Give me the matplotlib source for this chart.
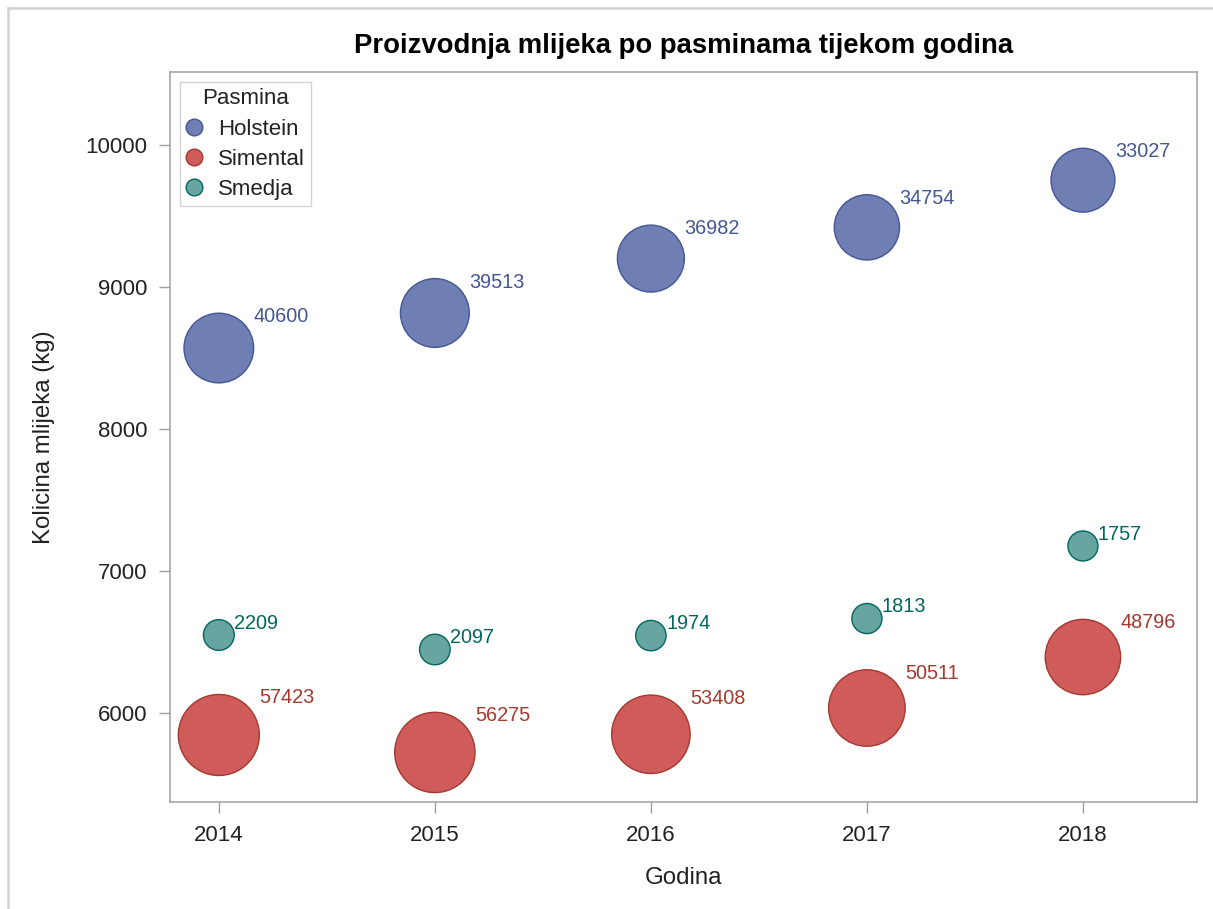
import numpy as np
import matplotlib
matplotlib.use("Agg")
import matplotlib.pyplot as plt
from matplotlib.lines import Line2D

# ---- data ----
years = [2014, 2015, 2016, 2017, 2018]
breeds = ["Holstein", "Simental", "Smedja"]
holstein_milk = [8570, 8817, 9200, 9420, 9752]
simental_milk = [5845, 5722, 5850, 6035, 6394]
smedja_milk = [6549, 6447, 6545, 6665, 7176]
holstein_count = [40600, 39513, 36982, 34754, 33027]
simental_count = [57423, 56275, 53408, 50511, 48796]
smedja_count = [2209, 2097, 1974, 1813, 1757]
y_ticks = [6000, 7000, 8000, 9000, 10000]

milk = [holstein_milk, simental_milk, smedja_milk]
counts = [holstein_count, simental_count, smedja_count]
fills = ["#6F7EB3", "#D05B5B", "#66A5A0"]
edges = ["#445694", "#A23A2E", "#01665E"]

plt.rcParams["font.family"] = ["Liberation Sans", "DejaVu Sans"]

DPI = 100
fig = plt.figure(figsize=(12.13, 9.09), dpi=DPI)
ax = fig.add_axes([170 / 1213, 1 - 802 / 909, (1197 - 170) / 1213, (802 - 72) / 909])

# bubble radius (pixels): area interpolated linearly between min and max
RMIN, RMAX = 15.0, 40.5
allc = np.concatenate([np.array(c, float) for c in counts])
vmin, vmax = allc.min(), allc.max()
px2pt = 72.0 / DPI

for m, c, fc, ec in zip(milk, counts, fills, edges):
    c = np.array(c, float)
    r_px = np.sqrt(RMIN**2 + (c - vmin) / (vmax - vmin) * (RMAX**2 - RMIN**2))
    s = (2 * r_px * px2pt) ** 2
    ax.scatter(years, m, s=s, c=fc, edgecolors=ec, linewidths=1.0, zorder=3)
    for x, y, cnt, r in zip(years, m, c, r_px):
        ax.annotate(f"{int(cnt)}", (x, y), xytext=(r * px2pt, (r - 9) * px2pt),
                    textcoords="offset points", ha="left", va="baseline",
                    fontsize=14.3, color=ec, zorder=4)

ax.set_xlim(2013.774, 2018.528)
ax.set_ylim(5373, 10514)
ax.set_xticks(years)
ax.set_xticklabels([str(y) for y in years])
ax.set_yticks(y_ticks)
ax.set_yticklabels([str(v) for v in y_ticks])

spine_col = "#A0A0A0"
for sp in ax.spines.values():
    sp.set_color(spine_col)
    sp.set_linewidth(1.1)
ax.tick_params(axis="both", direction="out", length=8, width=1.0, color=spine_col,
               labelsize=16, labelcolor="#222222", pad=8.5)

ax.set_title("Proizvodnja mlijeka po pasminama tijekom godina", fontsize=19.8,
             fontweight="bold", pad=14, color="black")
ax.set_xlabel("Godina", fontsize=17.3, color="#222222")
ax.set_ylabel("Kolicina mlijeka (kg)", fontsize=17.3, color="#222222")
ax.xaxis.set_label_coords(0.5, -0.089)
ax.yaxis.set_label_coords(-0.112, 0.5)

handles = [Line2D([0], [0], marker="o", linestyle="none", markersize=12,
                  markerfacecolor=fc, markeredgecolor=ec, markeredgewidth=1.0)
           for fc, ec in zip(fills, edges)]
leg = ax.legend(handles, breeds, title="Pasmina", loc="upper left",
                bbox_to_anchor=(10 / 1027, (802 - 82) / 730), borderaxespad=0,
                fontsize=16, title_fontsize=16, frameon=True, fancybox=False,
                borderpad=0.28, labelspacing=0.42, handlelength=0.7,
                handletextpad=0.72, edgecolor="#C8C8C8")
leg.get_frame().set_linewidth(1.0)
for t in leg.get_texts():
    t.set_color("#222222")
leg.get_title().set_color("#222222")

# outer light frame
fig.add_artist(Line2D([8 / 1213, 1.0], [1 - 8 / 909, 1 - 8 / 909],
                      transform=fig.transFigure, color="#D3D3D3", linewidth=1.8))
fig.add_artist(Line2D([8 / 1213, 8 / 1213], [1 - 8 / 909, 0.0],
                      transform=fig.transFigure, color="#D3D3D3", linewidth=1.8))

fig.savefig("out.png", dpi=DPI, facecolor="white")
